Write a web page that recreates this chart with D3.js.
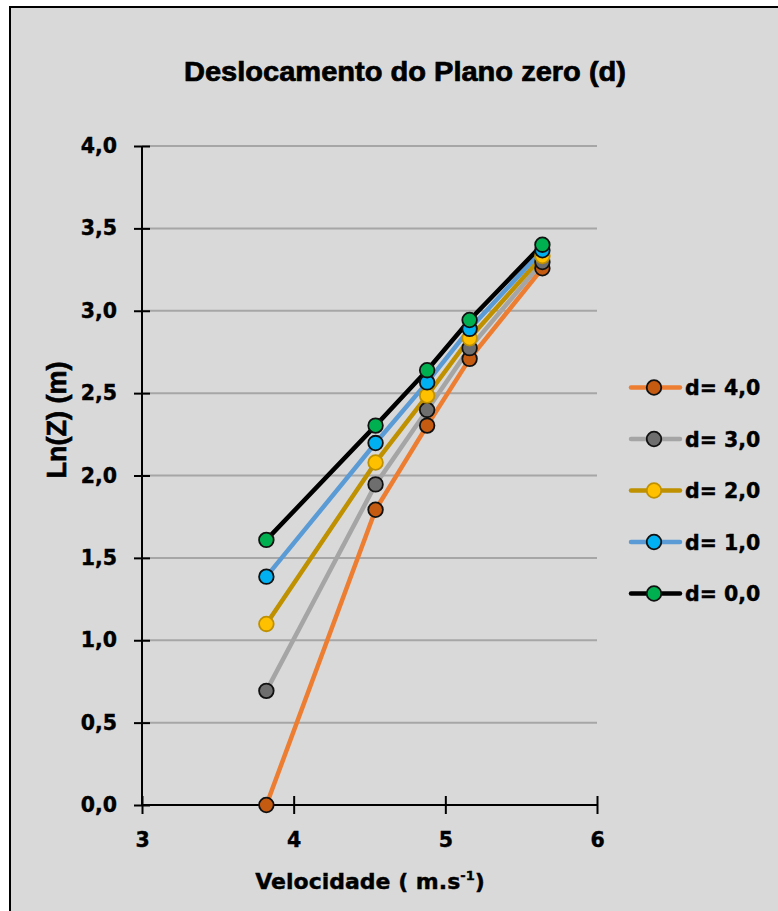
<!DOCTYPE html>
<html><head><meta charset="utf-8">
<script src="https://cdn.jsdelivr.net/npm/d3@7"></script>
<style>
html,body{margin:0;padding:0;background:#fff;}
svg{display:block;}
text{font-family:"DejaVu Sans",sans-serif;font-weight:bold;fill:#000;}
</style></head>
<body>
<script>
// ---- data ----
const velocidade = [3.82, 4.54, 4.88, 5.16, 5.64];
const seriesNames = ["d= 4,0", "d= 3,0", "d= 2,0", "d= 1,0", "d= 0,0"];
const lnZ_d4 = [0.000, 1.792, 2.303, 2.708, 3.258];
const lnZ_d3 = [0.693, 1.946, 2.398, 2.773, 3.296];
const lnZ_d2 = [1.099, 2.079, 2.485, 2.833, 3.332];
const lnZ_d1 = [1.386, 2.197, 2.565, 2.890, 3.367];
const lnZ_d0 = [1.609, 2.303, 2.639, 2.944, 3.401];
const xTicks = [3, 4, 5, 6];
const yTicks = [0, 0.5, 1, 1.5, 2, 2.5, 3, 3.5, 4];
const titleText = "Deslocamento do Plano zero (d)";
const xTitle = "Velocidade ( m.s";
const yTitle = "Ln(Z) (m)";

const styles = [
  {line:"#ED7D31", fill:"#C55A11", stroke:"#111"},
  {line:"#A5A5A5", fill:"#6e6e6e", stroke:"#111"},
  {line:"#BF9000", fill:"#FFC000", stroke:"#BF9000"},
  {line:"#5B9BD5", fill:"#00B0F0", stroke:"#111"},
  {line:"#000000", fill:"#00B050", stroke:"#111"}
];
const allSeries = [lnZ_d4, lnZ_d3, lnZ_d2, lnZ_d1, lnZ_d0].map((vals,i)=>({
  name: seriesNames[i], style: styles[i],
  pts: vals.map((v,j)=>({x: velocidade[j], y: v}))
}));

const W = 778, H = 911;
const svg = d3.select("body").append("svg").attr("width", W).attr("height", H);

// chart background + border
svg.append("rect").attr("x",10).attr("y",7).attr("width",W).attr("height",H)
  .attr("fill","#d9d9d9").attr("stroke","#000").attr("stroke-width",2);

const x = d3.scaleLinear().domain([3,6]).range([142,597]);
const y = d3.scaleLinear().domain([0,4]).range([805,146]);
const fmt = d => d3.format(".1f")(d).replace(".", ",");

// gridlines
svg.append("g").selectAll("line").data(yTicks.filter(t=>t>0)).join("line")
  .attr("x1", x(3)).attr("x2", x(6))
  .attr("y1", d=>y(d)).attr("y2", d=>y(d))
  .attr("stroke","#a6a6a6").attr("stroke-width",2);

// y axis
const yAxis = svg.append("g").attr("transform",`translate(${x(3)},0)`)
  .call(d3.axisLeft(y).tickValues(yTicks).tickFormat(fmt).tickSize(8).tickPadding(17));
yAxis.select(".domain").remove();
yAxis.append("line").attr("y1",y(4)).attr("y2",y(0)).attr("stroke","#000").attr("stroke-width",2);
yAxis.selectAll(".tick line").attr("x2",8).attr("x1",-8).attr("stroke","#000").attr("stroke-width",2);
yAxis.selectAll(".tick text").style("font-size","20.5px").style("font-family","DejaVu Sans").style("font-weight","bold")
  .attr("fill","#000").attr("stroke","#000").attr("stroke-width",0.4).attr("x",-25);

// x axis
const xAxis = svg.append("g").attr("transform",`translate(0,${y(0)})`)
  .call(d3.axisBottom(x).tickValues(xTicks).tickFormat(d3.format("d")).tickSize(9).tickPadding(18));
xAxis.select(".domain").remove();
xAxis.append("line").attr("x1",x(3)).attr("x2",x(6)).attr("stroke","#000").attr("stroke-width",2);
xAxis.selectAll(".tick line").attr("y1",-9).attr("y2",9).attr("stroke","#000").attr("stroke-width",2);
xAxis.selectAll(".tick text").style("font-size","20.5px").style("font-family","DejaVu Sans").style("font-weight","bold")
  .attr("fill","#000").attr("stroke","#000").attr("stroke-width",0.4);

// lines
const lineGen = d3.line().x(d=>x(d.x)).y(d=>y(d.y));
svg.append("g").selectAll("path").data(allSeries).join("path")
  .attr("d", s=>lineGen(s.pts)).attr("fill","none")
  .attr("stroke", s=>s.style.line).attr("stroke-width",4.5).attr("stroke-linejoin","round");

// markers
allSeries.forEach(s=>{
  svg.append("g").selectAll("circle").data(s.pts).join("circle")
    .attr("cx", d=>x(d.x)).attr("cy", d=>y(d.y)).attr("r",7.3)
    .attr("fill", s.style.fill).attr("stroke", s.style.stroke).attr("stroke-width",1.8);
});

// title
svg.append("text").attr("x",405).attr("y",81).attr("text-anchor","middle")
  .style("font-family","'Liberation Sans',Arial,sans-serif").style("font-size","27px")
  .attr("textLength",442).attr("lengthAdjust","spacingAndGlyphs")
  .attr("stroke","#000").attr("stroke-width",0.7)
  .text(titleText);

// x title
const xt = svg.append("text").attr("x",370).attr("y",889).attr("text-anchor","middle")
  .style("font-size","22px").attr("stroke","#000").attr("stroke-width",0.4);
xt.append("tspan").text(xTitle);
xt.append("tspan").attr("dy",-9).style("font-size","13px").text("-1");
xt.append("tspan").attr("dy",9).text(")");

// y title
svg.append("text").attr("transform","translate(66,420) rotate(-90)").attr("text-anchor","middle")
  .style("font-family","'Liberation Sans',Arial,sans-serif").style("font-size","27px")
  .attr("stroke","#000").attr("stroke-width",0.6).text(yTitle);

// legend
const legY0 = 387.5, legStep = 51.5;
const leg = svg.append("g").selectAll("g").data(allSeries).join("g")
  .attr("transform",(d,i)=>`translate(0,${legY0+i*legStep})`);
leg.append("line").attr("x1",631).attr("x2",680).attr("stroke",d=>d.style.line)
  .attr("stroke-width",4.5).attr("stroke-linecap","round");
leg.append("circle").attr("cx",654).attr("r",7.3).attr("fill",d=>d.style.fill)
  .attr("stroke",d=>d.style.stroke).attr("stroke-width",1.8);
leg.append("text").attr("x",685).attr("y",7.5).style("font-size","20.5px")
  .attr("stroke","#000").attr("stroke-width",0.4).text(d=>d.name);
</script>
</body></html>
